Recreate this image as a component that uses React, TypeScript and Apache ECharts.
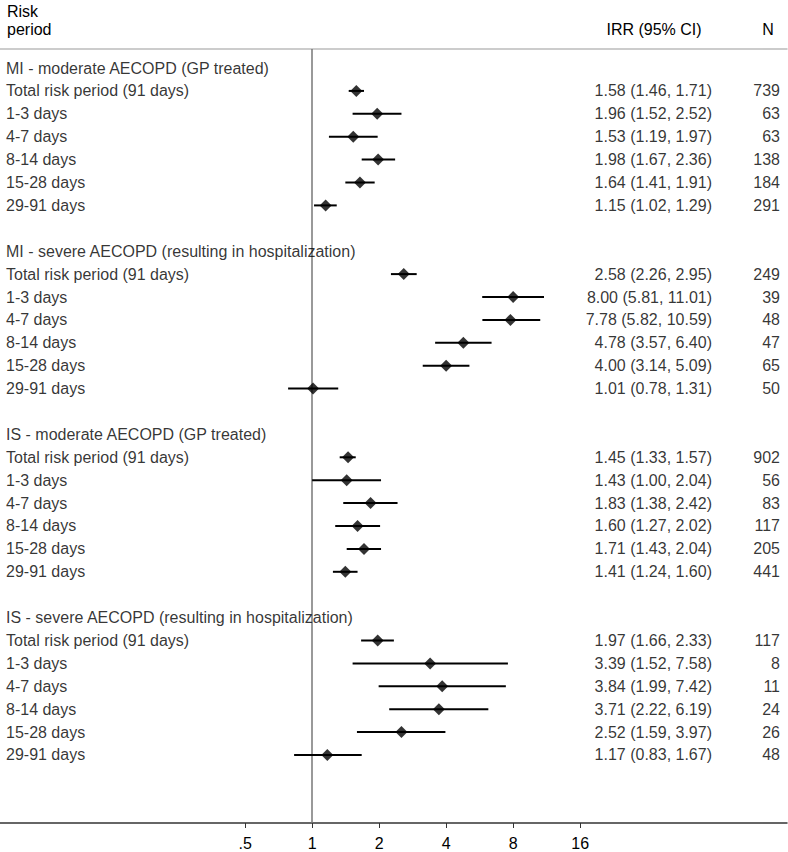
import React, { useEffect, useRef } from "react";
import * as echarts from "echarts";

// ---------- data ----------
const groupTitles = [
  "MI - moderate AECOPD (GP treated)",
  "MI - severe AECOPD (resulting in hospitalization)",
  "IS - moderate AECOPD (GP treated)",
  "IS - severe AECOPD (resulting in hospitalization)",
];
const periods = [
  "Total risk period (91 days)",
  "1-3 days",
  "4-7 days",
  "8-14 days",
  "15-28 days",
  "29-91 days",
];

const irrMiMod = [1.58, 1.96, 1.53, 1.98, 1.64, 1.15];
const lowMiMod = [1.46, 1.52, 1.19, 1.67, 1.41, 1.02];
const highMiMod = [1.71, 2.52, 1.97, 2.36, 1.91, 1.29];
const nMiMod = [739, 63, 63, 138, 184, 291];

const irrMiSev = [2.58, 8.0, 7.78, 4.78, 4.0, 1.01];
const lowMiSev = [2.26, 5.81, 5.82, 3.57, 3.14, 0.78];
const highMiSev = [2.95, 11.01, 10.59, 6.4, 5.09, 1.31];
const nMiSev = [249, 39, 48, 47, 65, 50];

const irrIsMod = [1.45, 1.43, 1.83, 1.6, 1.71, 1.41];
const lowIsMod = [1.33, 1.0, 1.38, 1.27, 1.43, 1.24];
const highIsMod = [1.57, 2.04, 2.42, 2.02, 2.04, 1.6];
const nIsMod = [902, 56, 83, 117, 205, 441];

const irrIsSev = [1.97, 3.39, 3.84, 3.71, 2.52, 1.17];
const lowIsSev = [1.66, 1.52, 1.99, 2.22, 1.59, 0.83];
const highIsSev = [2.33, 7.58, 7.42, 6.19, 3.97, 1.67];
const nIsSev = [117, 8, 11, 24, 26, 48];

const xTicks = [0.5, 1, 2, 4, 8, 16];

const headerLeft = ["Risk", "period"];
const headerCI = "IRR (95% CI)";
const headerN = "N";

// ---------- layout constants ----------
const XMIN = 0.0396;
const XMAX = 136;
const FONT = '"Liberation Sans", Arial, Helvetica, sans-serif';

const groupsData = [
  { irr: irrMiMod, low: lowMiMod, high: highMiMod, n: nMiMod },
  { irr: irrMiSev, low: lowMiSev, high: highMiSev, n: nMiSev },
  { irr: irrIsMod, low: lowIsMod, high: highIsMod, n: nIsMod },
  { irr: irrIsSev, low: lowIsSev, high: highIsSev, n: nIsSev },
];

export default function App() {
  const ref = useRef<HTMLDivElement | null>(null);

  useEffect(() => {
    if (!ref.current) return;
    const chart = echarts.init(ref.current, null, { renderer: "svg" });

    const leftLabels: any[] = [];
    const ciLabels: any[] = [];
    const nLabels: any[] = [];
    const points: any[] = [];
    const bars: any[] = [];

    groupsData.forEach((g, gi) => {
      const headRow = gi * 8;
      leftLabels.push([XMIN, headRow, groupTitles[gi]]);
      periods.forEach((p, i) => {
        const row = headRow + 1 + i;
        leftLabels.push([XMIN, row, p]);
        const est = g.irr[i];
        const lo = g.low[i];
        const hi = g.high[i];
        ciLabels.push([XMAX, row, `${est.toFixed(2)} (${lo.toFixed(2)}, ${hi.toFixed(2)})`]);
        nLabels.push([XMAX, row, String(g.n[i])]);
        points.push([est, row]);
        bars.push([est, row, lo, hi]);
      });
    });

    const textSeries = (data: any[], position: string, distance: number) => ({
      type: "scatter",
      data,
      symbolSize: 0,
      clip: false,
      silent: true,
      z: 5,
      label: {
        show: true,
        position,
        distance,
        formatter: (p: any) => p.value[2],
        color: "#000",
        fontSize: 16,
        fontFamily: FONT,
      },
      emphasis: { disabled: true },
    });

    chart.setOption({
      animation: false,
      backgroundColor: "#fff",
      grid: {
        left: 0,
        right: 1,
        top: 49,
        bottom: 29,
        containLabel: false,
        outerBoundsMode: "none",
      },
      xAxis: [
        {
          type: "log",
          logBase: 2,
          min: XMIN,
          max: XMAX,
          position: "bottom",
          axisLine: { show: true, onZero: false, lineStyle: { color: "#333", width: 1.5 } },
          axisTick: {
            show: true,
            customValues: xTicks,
            length: 5,
            lineStyle: { color: "#333", width: 1 },
          },
          axisLabel: {
            show: true,
            customValues: xTicks,
            formatter: (v: number) => (v === 0.5 ? ".5" : String(v)),
            color: "#000",
            fontSize: 16,
            fontFamily: FONT,
            margin: 12,
          },
          splitLine: { show: false },
          minorTick: { show: false },
        },
        {
          type: "value",
          position: "top",
          min: 0,
          max: 1,
          axisLine: { show: true, onZero: false, lineStyle: { color: "#bbb", width: 1.5 } },
          axisTick: { show: false },
          axisLabel: { show: false },
          splitLine: { show: false },
        },
      ],
      yAxis: {
        type: "value",
        inverse: true,
        min: -0.83,
        max: 32.97,
        show: false,
        splitLine: { show: false },
      },
      graphic: [
        {
          type: "text",
          x: 7,
          y: 11,
          style: { text: headerLeft[0], font: `16px ${FONT}`, fill: "#000", align: "left", verticalAlign: "middle" },
        },
        {
          type: "text",
          x: 7,
          y: 29,
          style: { text: headerLeft[1], font: `16px ${FONT}`, fill: "#000", align: "left", verticalAlign: "middle" },
        },
        {
          type: "text",
          x: 654,
          y: 29,
          style: { text: headerCI, font: `16px ${FONT}`, fill: "#000", align: "center", verticalAlign: "middle" },
        },
        {
          type: "text",
          x: 768,
          y: 29,
          style: { text: headerN, font: `16px ${FONT}`, fill: "#000", align: "center", verticalAlign: "middle" },
        },
      ],
      series: [
        {
          type: "custom",
          data: bars,
          encode: { x: [2, 3], y: 1 },
          silent: true,
          z: 3,
          renderItem: (params: any, api: any) => {
            const y = api.value(1);
            const a = api.coord([api.value(2), y]);
            const b = api.coord([api.value(3), y]);
            return {
              type: "line",
              shape: { x1: a[0], y1: a[1], x2: b[0], y2: b[1] },
              style: { stroke: "#000", lineWidth: 2 },
            };
          },
        },
        {
          type: "scatter",
          data: points,
          symbol: "diamond",
          symbolSize: [12, 12],
          itemStyle: { color: "#000" },
          silent: true,
          z: 4,
          emphasis: { disabled: true },
          markLine: {
            silent: true,
            symbol: ["none", "none"],
            label: { show: false },
            lineStyle: { color: "#777", width: 1.5, type: "solid" },
            emphasis: { disabled: true },
            data: [{ xAxis: 1 }],
            z: 2,
          },
        },
        textSeries(leftLabels, "right", 6),
        textSeries(ciLabels, "left", 75),
        textSeries(nLabels, "left", 7),
      ],
    });

    return () => chart.dispose();
  }, []);

  return (
    <div
      ref={ref}
      style={{ position: "fixed", left: 0, top: 0, width: 788, height: 852, background: "#fff" }}
    />
  );
}
